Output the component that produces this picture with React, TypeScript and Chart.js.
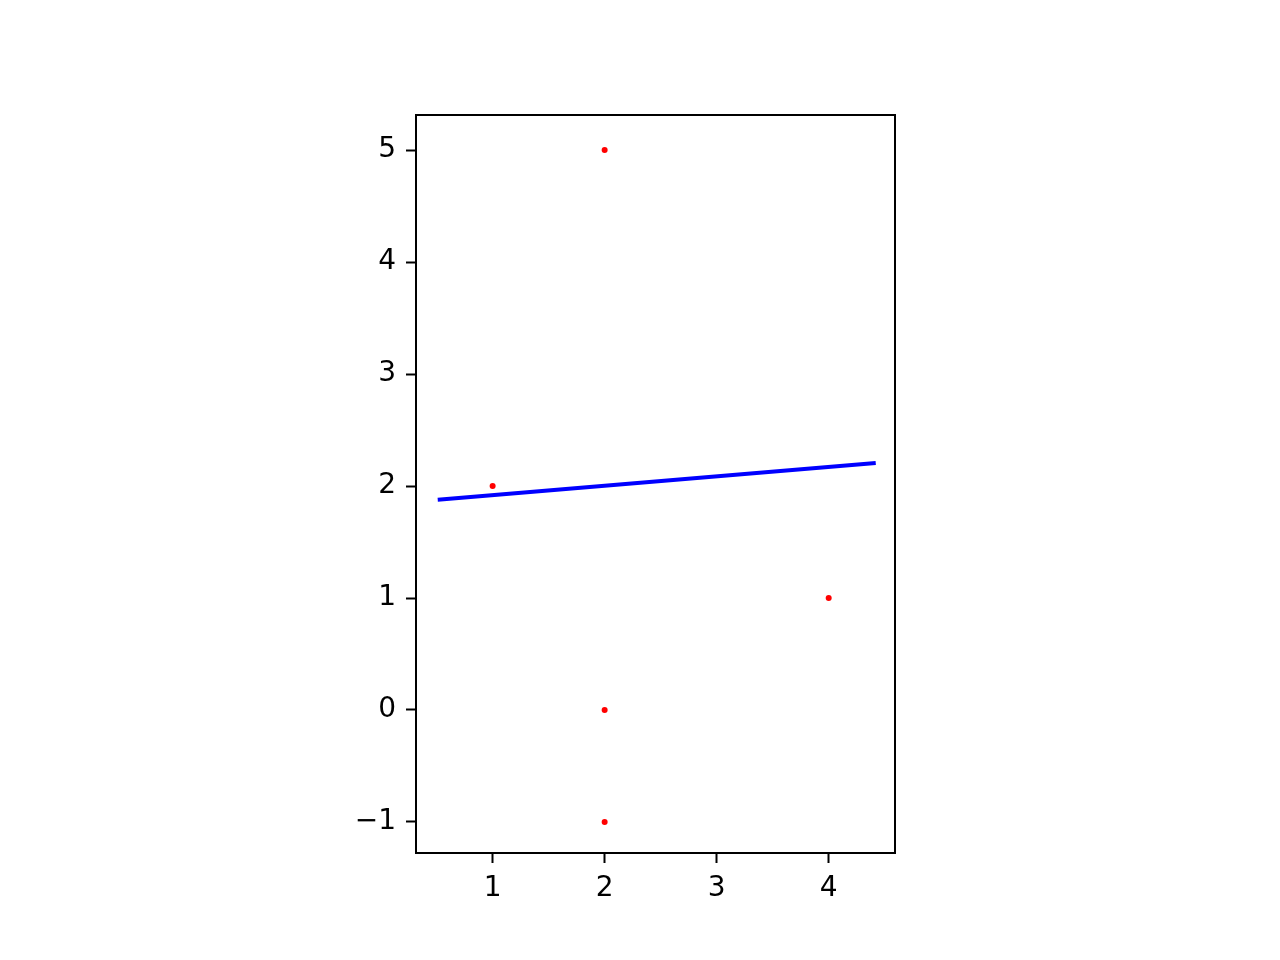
import React, { useEffect, useRef } from "react";
import { Chart, registerables } from "chart.js";

Chart.register(...registerables);

const pointX = [1, 2, 2, 2, 4];
const pointY = [2, 5, 0, -1, 1];
const lineX = [0.51, 4.42];
const lineY = [1.878, 2.205];
const xTicks = [1, 2, 3, 4];
const yTicks = [-1, 0, 1, 2, 3, 4, 5];
const xRange = [0.316, 4.592];
const yRange = [-1.277, 5.313];

const boxPlugin = {
  id: "boxPlugin",
  afterDatasetsDraw(chart: any) {
    const { ctx, chartArea } = chart;
    ctx.save();
    ctx.strokeStyle = "#000";
    ctx.lineWidth = 2;
    ctx.strokeRect(chartArea.left, chartArea.top, chartArea.right - chartArea.left, chartArea.bottom - chartArea.top);
    ctx.restore();
  },
};

const fmt = (v: any) => String(v).replace("-", "\u2212");

export default function App() {
  const ref = useRef<HTMLCanvasElement>(null);
  useEffect(() => {
    if (!ref.current) return;
    const chart = new Chart(ref.current, {
      type: "scatter",
      data: {
        datasets: [
          {
            data: pointX.map((x, i) => ({ x, y: pointY[i] })),
            backgroundColor: "#ff0000",
            borderColor: "#ff0000",
            pointRadius: 3,
            borderWidth: 0,
            showLine: false,
          },
          {
            data: lineX.map((x, i) => ({ x, y: lineY[i] })),
            borderColor: "#0000ff",
            backgroundColor: "#0000ff",
            borderWidth: 4,
            pointRadius: 0,
            showLine: true,
          },
        ],
      },
      options: {
        responsive: false,
        animation: false,
        layout: { padding: { left: 0, right: 385, top: 115, bottom: 0 } },
        plugins: { legend: { display: false }, tooltip: { enabled: false } },
        scales: {
          x: {
            type: "linear",
            min: xRange[0],
            max: xRange[1],
            afterBuildTicks: (s: any) => {
              s.ticks = xTicks.map((v) => ({ value: v }));
            },
            afterFit: (s: any) => {
              s.height = 107;
            },
            grid: { drawOnChartArea: false, tickLength: 10, tickWidth: 2, tickColor: "#000", color: "#000" },
            border: { display: false },
            ticks: {
              color: "#000",
              font: { family: "DejaVu Sans", size: 28 },
              padding: 9,
              maxRotation: 0,
              autoSkip: false,
              callback: (v: any) => fmt(v),
            },
          },
          y: {
            type: "linear",
            min: yRange[0],
            max: yRange[1],
            afterBuildTicks: (s: any) => {
              s.ticks = yTicks.map((v) => ({ value: v }));
            },
            afterFit: (s: any) => {
              s.width = 416;
            },
            grid: { drawOnChartArea: false, tickLength: 10, tickWidth: 2, tickColor: "#000", color: "#000" },
            border: { display: false },
            ticks: {
              color: "#000",
              font: { family: "DejaVu Sans", size: 28 },
              padding: 10,
              autoSkip: false,
              callback: (v: any) => fmt(v),
            },
          },
        },
      },
      plugins: [boxPlugin],
    } as any);
    return () => chart.destroy();
  }, []);
  return (
    <div style={{ position: "fixed", left: 0, top: 0, width: 1280, height: 960, background: "#fff" }}>
      <canvas ref={ref} width={1280} height={960} style={{ width: 1280, height: 960 }} />
    </div>
  );
}
